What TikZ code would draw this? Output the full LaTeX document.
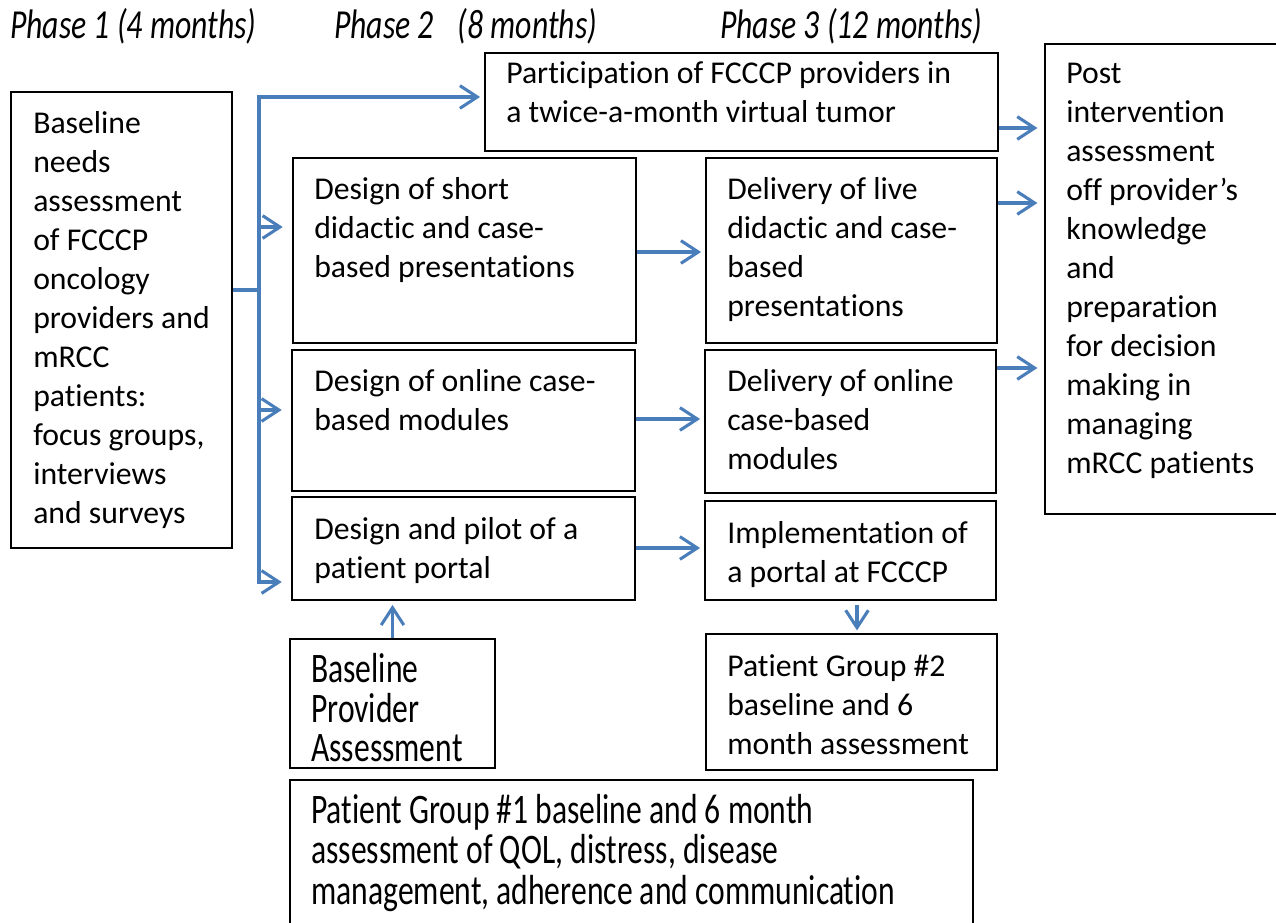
\documentclass[tikz,border=0pt]{standalone}
\usepackage{fontspec}
\setmainfont[Ligatures=NoCommon]{Carlito}
\usetikzlibrary{arrows.meta,fit}
\definecolor{arrowblue}{HTML}{4A7EBB}
\newcommand{\tl}[1]{\begin{tabular}[t]{@{}l@{}}#1\end{tabular}}
\newcommand{\tallt}[1]{\scalebox{1}[1.33]{\fontsize{23.7}{22}\selectfont\begin{tabular}[t]{@{}l@{}}#1\end{tabular}}}
\begin{document}
\begin{tikzpicture}[x=0.75pt,y=-0.75pt,
  box/.style={draw=black, line width=1.4pt, inner sep=0pt},
  txt/.style={anchor=base west, inner sep=0pt, font=\fontsize{23.8}{29.25}\selectfont},
  phase/.style={anchor=base west, inner sep=0pt, font=\fontsize{23.8}{22}\selectfont\itshape},
  arr/.style={draw=arrowblue, line width=2.3pt, -{Straight Barb[length=13pt,width=17pt]}},
  ln/.style={draw=arrowblue, line width=2.3pt}]
\useasboundingbox (0,0) rectangle (1276,923);
\clip (0,0) rectangle (1276,923);

% phase labels
\node[phase] (ph1) at (10,39) {\scalebox{1}[1.3]{Phase 1 (4 months)}};
\node[phase] (ph2) at (334,39) {\scalebox{1}[1.3]{Phase 2\hspace{0.75em}(8 months)}};
\node[phase] (ph3) at (720,39) {\scalebox{1}[1.3]{Phase 3 (12 months)}};

% boxes
\node[box, fit={(11,92)(232,548)}] (base) {};
\node[box, fit={(485,53)(998,151)}] (tumor) {};
\node[box, fit={(293,158)(636,343)}] (dshort) {};
\node[box, fit={(706,158)(997,343)}] (dlive) {};
\node[box, fit={(292,350)(635,491)}] (donline) {};
\node[box, fit={(705,350)(996,493)}] (delonline) {};
\node[box, fit={(292,497)(635,600)}] (pilot) {};
\node[box, fit={(705,501)(996,600)}] (impl) {};
\node[box, fit={(290,639)(495,768)}] (bpa) {};
\node[box, fit={(706,634)(997,770)}] (pg2) {};
\node[box, fit={(290,780)(973,935)}] (pg1) {};
\node[box, fit={(1045,44)(1290,514)}] (post) {};

% texts
\node[txt] (baset) at (33,134) {\tl{Baseline\\needs\\assessment\\of FCCCP\\oncology\\providers and\\mRCC\\patients:\\focus groups,\\interviews\\and surveys}};
\node[txt] (tumort) at (506,84) {\tl{Participation of FCCCP providers in\\a twice-a-month virtual tumor}};
\node[txt] (dshortt) at (314,200) {\tl{Design of short\\didactic and case-\\based presentations}};
\node[txt] (dlivet) at (727,200) {\tl{Delivery of live\\didactic and case-\\based\\presentations}};
\node[txt] (donlinet) at (314,391) {\tl{Design of online case-\\based modules}};
\node[txt] (delonlinet) at (727,391) {\tl{Delivery of online\\case-based\\modules}};
\node[txt] (pilott) at (314,539) {\tl{Design and pilot of a\\patient portal}};
\node[txt] (implt) at (727,543) {\tl{Implementation of\\a portal at FCCCP}};
\node[txt] (bpat) at (311,682) {\tallt{Baseline\\Provider\\Assessment}};
\node[txt] (pg2t) at (727,676) {\tl{Patient Group \#2\\baseline and 6\\month assessment}};
\node[txt] (pg1t) at (311,823) {\tallt{Patient Group \#1 baseline and 6 month\\assessment of QOL, distress, disease\\management, adherence and communication}};
\node[txt] (postt) at (1066,84) {\tl{Post\\intervention\\assessment\\off provider’s\\knowledge\\and\\preparation\\for decision\\making in\\managing\\mRCC patients}};

% connectors
\coordinate (j) at (259,290);
\draw[ln] (base.east |- j) -- (j);
\draw[arr, shorten >=3pt] (j) |- (tumor.west |- 0,97);
\draw[arr, shorten >=7pt] (j) |- (dshort.west |- 0,227);
\draw[arr, shorten >=7pt] (j) |- (donline.west |- 0,410);
\draw[arr, shorten >=7pt] (j) |- (pilot.west |- 0,582);

\draw[arr, shorten >=3pt] (dshort.east |- 0,252) -- (dlive.west |- 0,252);
\draw[arr, shorten >=3pt] (donline.east |- 0,419) -- (delonline.west |- 0,419);
\draw[arr, shorten >=3pt] (pilot.east |- 0,548) -- (impl.west |- 0,548);
\draw[arr, shorten <=3pt, shorten >=2pt] (impl.south -| 857,0) -- (pg2.north -| 857,0);
\draw[arr, shorten >=3pt] (bpa.north) -- (pilot.south -| bpa.north);

\draw[arr, shorten >=5pt] (tumor.east |- 0,128) -- (post.west |- 0,128);
\draw[arr, shorten >=5pt] (dlive.east |- 0,203) -- (post.west |- 0,203);
\draw[arr, shorten >=5pt] (delonline.east |- 0,368) -- (post.west |- 0,368);
\end{tikzpicture}
\end{document}
